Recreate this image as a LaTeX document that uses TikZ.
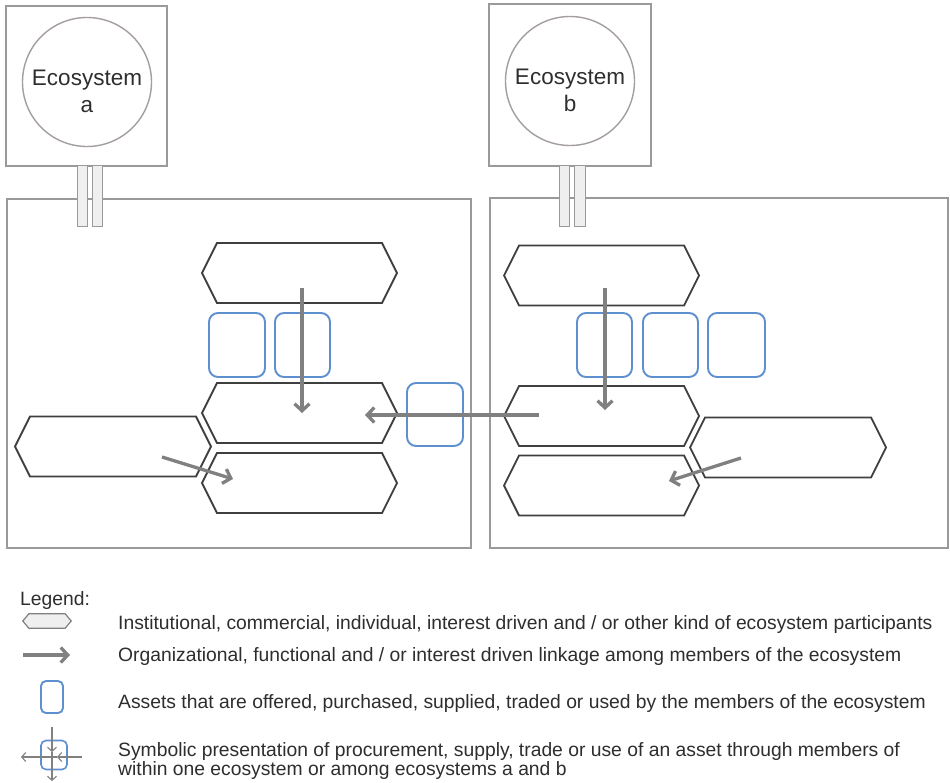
\documentclass[tikz,border=0pt]{standalone}
\usepackage{fontspec}
\setmainfont{Liberation Sans}
\usetikzlibrary{arrows.meta}

\definecolor{framegray}{HTML}{9A9A9A}
\definecolor{hexgray}{HTML}{3F3F3F}
\definecolor{assetblue}{HTML}{5E8FCF}
\definecolor{linkgray}{HTML}{808080}
\definecolor{circlegray}{HTML}{A59E9E}
\definecolor{barfill}{HTML}{EFEFEF}
\definecolor{textdark}{HTML}{2E2E2E}

% participant: name, x, y, width
\newcommand\participant[4]{%
  \node[hexbox, minimum width=#4] (#1) at (#2,#3) {};
  \draw[hexline] (#1.west) -- ([xshift=15pt]#1.north west) -- ([xshift=-15pt]#1.north east)
    -- (#1.east) -- ([xshift=-15pt]#1.south east) -- ([xshift=15pt]#1.south west) -- cycle;}

\begin{document}
\begin{tikzpicture}[x=1pt, y=-1pt,
  framebox/.style={draw=framegray, line width=1.6pt, inner sep=0pt},
  ecocircle/.style={circle, draw=circlegray, line width=1.4pt, minimum size=129pt, inner sep=0pt},
  ecotext/.style={anchor=base, text=textdark, font=\fontsize{22.5}{27}\selectfont, inner sep=0pt},
  bar/.style={draw=framegray, fill=barfill, line width=1pt, minimum width=10pt, minimum height=61pt, inner sep=0pt},
  hexbox/.style={minimum height=60pt, inner sep=0pt, outer sep=0pt},
  hexline/.style={draw=hexgray, line width=1.8pt, fill=white, line join=miter},
  asset/.style={draw=assetblue, line width=1.9pt, rounded corners=9pt, minimum width=56pt, minimum height=64pt, inner sep=0pt},
  link/.style={draw=linkgray, line width=3.3pt, -{Straight Barb[length=7pt,width=15pt]}},
  thinlink/.style={draw=linkgray, line width=1.1pt, -{Straight Barb[length=4pt,width=9pt]}},
  legtext/.style={anchor=base west, text=textdark, font=\fontsize{19.3}{20}\selectfont, inner sep=0pt}]

\useasboundingbox[fill=white] (0,0) rectangle (950,783);

% ecosystem a
\node[framebox, minimum width=161pt, minimum height=160pt] (boxa) at (86.5,86) {};
\node[ecocircle] (eca) at (87,82) {};
\node[ecotext] (ecaname) at (87,86) {Ecosystem};
\node[ecotext] (ecaletter) at (87,113) {a};
\node[framebox, minimum width=464pt, minimum height=349pt] (areaa) at (239,373.5) {};
\node[bar] (bara1) at (82,196.5) {};
\node[bar] (bara2) at (97,196.5) {};

% ecosystem b
\node[framebox, minimum width=162pt, minimum height=162pt] (boxb) at (570,85) {};
\node[ecocircle] (ecb) at (570,81) {};
\node[ecotext] (ecbname) at (570,85) {Ecosystem};
\node[ecotext] (ecbletter) at (570,112) {b};
\node[framebox, minimum width=458pt, minimum height=350pt] (areab) at (719,373) {};
\node[bar] (barb1) at (564,196) {};
\node[bar, minimum width=11pt] (barb2) at (580,196) {};

% participants of a
\participant{ta}{299.5}{273}{195pt}
\participant{ma}{299.5}{413}{195pt}
\participant{ba}{299.5}{483}{195pt}
\participant{la}{113}{446.5}{196pt}

% participants of b
\participant{tb}{601.5}{275.5}{195pt}
\participant{mb}{601.5}{416}{195pt}
\participant{bb}{601.5}{485.5}{195pt}
\participant{rb}{788}{447.5}{196pt}

% assets
\node[asset] (sa1) at (237,345) {};
\node[asset, minimum width=55pt] (sa2) at (302.5,345) {};
\node[asset, minimum height=63pt] (sx) at (435,414.5) {};
\node[asset, minimum width=55pt] (sb1) at (604.5,345) {};
\node[asset, minimum width=55pt] (sb2) at (670.5,345) {};
\node[asset, minimum width=57pt] (sb3) at (736.5,345) {};

% linkages
\draw[link] ([xshift=2.5pt,yshift=-15pt]ta.center) -- ([xshift=2.5pt]ma.center);
\draw[link] ([xshift=3.5pt,yshift=-12.5pt]tb.center) -- ([xshift=3.5pt,yshift=6pt]mb.center);
\draw[link] ([xshift=-62.5pt,yshift=1pt]mb.center) -- ([xshift=65.5pt,yshift=-2pt]ma.center);
\draw[link] ([xshift=49pt,yshift=-10.5pt]la.center) -- ([xshift=-66.5pt,yshift=4pt]ba.center);
\draw[link] ([xshift=-47pt,yshift=-10.5pt]rb.center) -- ([xshift=67.5pt,yshift=4.5pt]bb.center);

% legend
\node[legtext] (legtitle) at (20,605) {Legend:};

\node[minimum width=48pt, minimum height=14pt, inner sep=0pt] (lghex) at (47,621) {};
\draw[draw=linkgray, line width=1.2pt, fill=barfill] (lghex.west) -- ([xshift=6pt]lghex.north west)
  -- ([xshift=-6pt]lghex.north east) -- (lghex.east) -- ([xshift=-6pt]lghex.south east)
  -- ([xshift=6pt]lghex.south west) -- cycle;
\node[legtext] (leg1) at (118,629) {Institutional, commercial, individual, interest driven and / or other kind of ecosystem participants};

\coordinate (lgarrS) at (23,655);
\coordinate (lgarrE) at (70,655);
\draw[link] (lgarrS) -- (lgarrE);
\node[legtext] (leg2) at (118,661) {Organizational, functional and / or interest driven linkage among members of the ecosystem};

\node[asset, minimum width=22pt, minimum height=32pt, rounded corners=5pt] (lgasset) at (52,697) {};
\node[legtext] (leg3) at (118,708) {Assets that are offered, purchased, supplied, traded or used by the members of the ecosystem};

\node[asset, minimum width=26pt, minimum height=29pt, rounded corners=5pt, line width=1.6pt] (lgsym) at (54,755) {};
\coordinate (symtop) at (52,727);
\coordinate (symmidv) at (52,752);
\coordinate (symbot) at (52,781);
\coordinate (symright) at (82,757);
\coordinate (symmidh) at (57,757);
\coordinate (symleft) at (21,757);
\draw[thinlink] (symtop) -- (symmidv);
\draw[thinlink] (symmidv) -- (symbot);
\draw[thinlink] (symright) -- (symmidh);
\draw[thinlink] (symmidh) -- (symleft);
\node[legtext] (leg4a) at (118,756) {Symbolic presentation of procurement, supply, trade or use of an asset through members of};
\node[legtext] (leg4b) at (118,775) {within one ecosystem or among ecosystems a and b};

\end{tikzpicture}
\end{document}
